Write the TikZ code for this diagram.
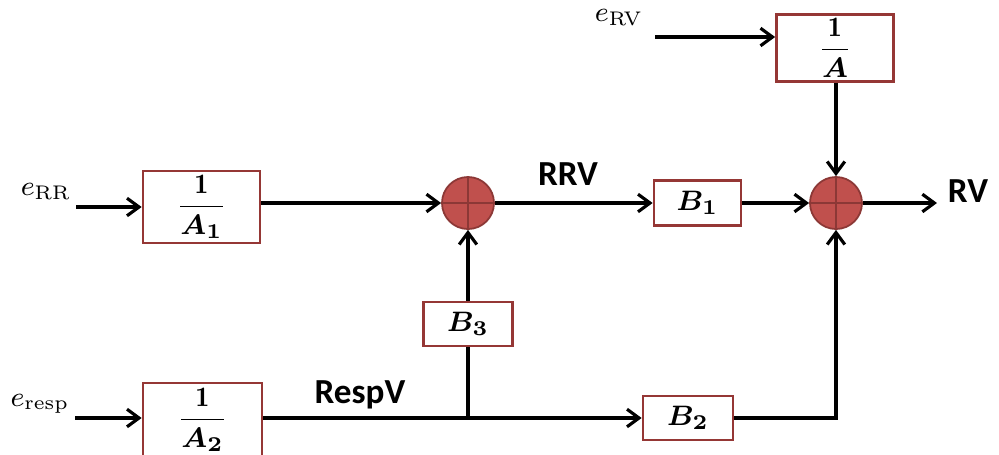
\documentclass[tikz,border=0pt]{standalone}
\usepackage{amsmath,bm}
\usepackage{fontspec}
\setsansfont{Carlito}
\usetikzlibrary{arrows.meta}
\definecolor{boxred}{HTML}{953735}
\definecolor{sumfill}{HTML}{C0504D}
\definecolor{sumedge}{HTML}{8C3836}
\newcommand{\elsub}[1]{\text{\fontsize{5.6}{6}\selectfont #1}}
\tikzset{
  blk/.style={draw=boxred, line width=0.75pt, fill=white, inner sep=0pt, font=\fontsize{8}{9}\selectfont},
  sumnode/.style={circle, draw=sumedge, fill=sumfill, minimum size=0.52cm, inner sep=0pt, line width=0.5pt,
    path picture={\draw[sumedge, line width=0.6pt] (path picture bounding box.north) -- (path picture bounding box.south)
      (path picture bounding box.west) -- (path picture bounding box.east);}},
  conn/.style={line width=0.9pt, -{Straight Barb[length=3.4pt,width=5pt,line width=0.9pt]}},
  plain/.style={line width=0.9pt},
  lbl/.style={font=\sffamily\bfseries\fontsize{10}{12}\selectfont, inner sep=0pt},
  elbl/.style={font=\fontsize{8.5}{9}\selectfont, inner sep=0pt}
}
\begin{document}
\begin{tikzpicture}[x=0.01cm,y=-0.01cm]
\useasboundingbox (0,0) rectangle (999,454);
\clip (0,0) rectangle (999,454);
% blocks
\node[blk, minimum width=1.17cm, minimum height=0.67cm] (A) at (835,48) {$\dfrac{\mathbf{1}}{\boldsymbol{A}}$};
\node[blk, minimum width=1.17cm, minimum height=0.72cm] (A1) at (201.5,207) {$\dfrac{\mathbf{1}}{\boldsymbol{A_1}}$};
\node[blk, minimum width=1.19cm, minimum height=0.74cm] (A2) at (202.5,420) {$\dfrac{\mathbf{1}}{\boldsymbol{A_2}}$};
\node[blk, minimum width=0.87cm, minimum height=0.45cm] (B1) at (697.5,203) {$\boldsymbol{B_1}$};
\node[blk, minimum width=0.89cm, minimum height=0.44cm] (B3) at (468,324) {$\boldsymbol{B_3}$};
\node[blk, minimum width=0.90cm, minimum height=0.44cm] (B2) at (688,418) {$\boldsymbol{B_2}$};
% summing junctions
\node[sumnode] (S1) at (468,203) {};
\node[sumnode] (S2) at (836,203) {};
% labels
\node[elbl] (lRV) at (619,18) {$e_{\elsub{RV}}$};
\node[elbl] (lRR) at (46,192) {$e_{\elsub{RR}}$};
\node[elbl] (lresp) at (40,404) {$e_{\elsub{resp}}$};
\node[lbl] (tRRV) at (568,174) {RRV};
\node[lbl] (tRespV) at (360,395) {RespV};
\node[lbl] (tRV) at (968,191) {RV};
% free ends
\coordinate (inRV) at (655,37);
\coordinate (inRR) at (76,207);
\coordinate (inresp) at (75,418);
\coordinate (outRV) at (937,203);
% connectors
\draw[conn] (inRV) -- (inRV -| A.west);
\draw[conn] (A.south -| S2.north) -- (S2.north);
\draw[conn] (inRR) -- (A1.west);
\draw[conn] (A1.east |- S1.west) -- (S1.west);
\draw[conn] (S1.east) -- (B1.west);
\draw[conn] (B1.east) -- (S2.west);
\draw[conn] (S2.east) -- (outRV);
\draw[conn] (inresp) -- (inresp -| A2.west);
\draw[conn] (A2.east |- B2.west) -- (B2.west);
\draw[plain] (B3.south) -- (B3.south |- B2.west);
\draw[conn] (B3.north) -- (S1.south);
\draw[conn] (B2.east) -| (S2.south);
\end{tikzpicture}
\end{document}
